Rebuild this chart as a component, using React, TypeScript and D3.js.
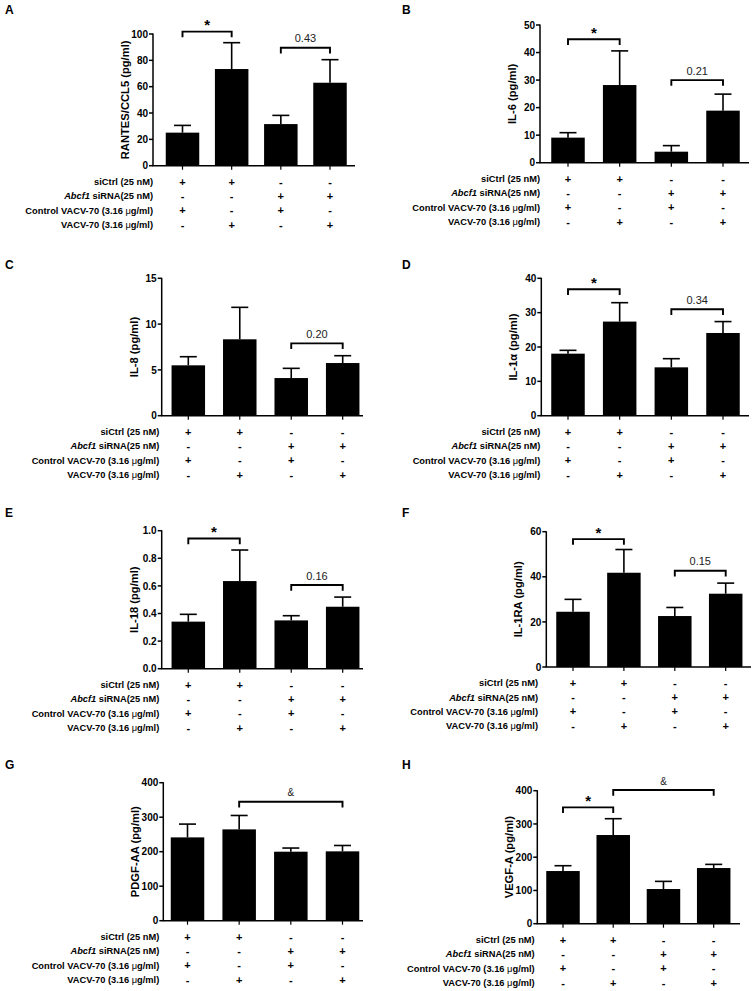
import React from "react";
import * as d3 from "d3";

// ---------- data ----------
const PANEL_LETTERS = ["A", "B", "C", "D", "E", "F", "G", "H"];
const Y_LABELS = [
  "RANTES/CCL5 (pg/ml)",
  "IL-6 (pg/ml)",
  "IL-8 (pg/ml)",
  "IL-1α (pg/ml)",
  "IL-18 (pg/ml)",
  "IL-1RA (pg/ml)",
  "PDGF-AA (pg/ml)",
  "VEGF-A (pg/ml)",
];
const Y_MAX = [100, 50, 15, 40, 1.0, 60, 400, 400];
const Y_STEP = [20, 10, 5, 10, 0.2, 20, 100, 100];
const Y_DECIMALS = [0, 0, 0, 0, 1, 0, 0, 0];

const MEANS = [
  [25.1, 73.4, 31.6, 63],
  [9.1, 28.2, 4.0, 18.9],
  [5.5, 8.34, 4.11, 5.75],
  [18.06, 27.4, 14.08, 24.08],
  [0.341, 0.635, 0.35, 0.449],
  [24.5, 41.8, 22.6, 32.5],
  [241.5, 264.7, 200, 201],
  [158.4, 266.7, 104.3, 167.4],
];
const ERR_TOPS = [
  [30.6, 93.4, 38.2, 80.5],
  [10.9, 40.6, 6.2, 24.9],
  [6.44, 11.83, 5.17, 6.55],
  [19.03, 32.9, 16.6, 27.4],
  [0.394, 0.86, 0.384, 0.519],
  [30.0, 52.1, 26.4, 37.2],
  [280, 305, 210.6, 218],
  [174.4, 315.8, 127.3, 178.4],
];

type Bracket = { a: number; b: number; y: number; label: string };
const BRACKETS: Bracket[][] = [
  [{ a: 0, b: 1, y: 101.8, label: "*" }, { a: 2, b: 3, y: 89.6, label: "0.43" }],
  [{ a: 0, b: 1, y: 44.8, label: "*" }, { a: 2, b: 3, y: 30.0, label: "0.21" }],
  [{ a: 2, b: 3, y: 7.9, label: "0.20" }],
  [{ a: 0, b: 1, y: 36.8, label: "*" }, { a: 2, b: 3, y: 31.0, label: "0.34" }],
  [{ a: 0, b: 1, y: 0.944, label: "*" }, { a: 2, b: 3, y: 0.606, label: "0.16" }],
  [{ a: 0, b: 1, y: 56.7, label: "*" }, { a: 2, b: 3, y: 42.7, label: "0.15" }],
  [{ a: 1, b: 3, y: 345, label: "&" }],
  [{ a: 0, b: 1, y: 350, label: "*" }, { a: 1, b: 3, y: 402, label: "&" }],
];

const ROW_SIGNS = [
  ["+", "+", "-", "-"],
  ["-", "-", "+", "+"],
  ["+", "-", "+", "-"],
  ["-", "+", "-", "+"],
];

// ---------- layout ----------
const LAYOUT = [
  { axisX: 153, yTop: 34, yBot: 165.7, xEnd: 355, c1: 182.5, c4: 330, labelRight: 153, lx: 5, ly: 9.5 },
  { axisX: 540, yTop: 25, yBot: 162.7, xEnd: 749, c1: 568, c4: 723, labelRight: 540, lx: 402, ly: 9.5 },
  { axisX: 161.7, yTop: 278.3, yBot: 415.7, xEnd: 363, c1: 188.3, c4: 342.7, labelRight: 159.3, lx: 5, ly: 265 },
  { axisX: 541.3, yTop: 278.3, yBot: 415.7, xEnd: 749, c1: 568, c4: 723, labelRight: 540.3, lx: 402, ly: 265 },
  { axisX: 161.7, yTop: 530.7, yBot: 668.7, xEnd: 363, c1: 188.3, c4: 342.7, labelRight: 159.3, lx: 5, ly: 513 },
  { axisX: 546.3, yTop: 531.7, yBot: 667, xEnd: 751, c1: 573, c4: 725.7, labelRight: 538, lx: 402, ly: 513 },
  { axisX: 163.3, yTop: 782.7, yBot: 920.7, xEnd: 363, c1: 187.5, c4: 342.5, labelRight: 159.3, lx: 5, ly: 765 },
  { axisX: 537.3, yTop: 790.7, yBot: 923.7, xEnd: 740, c1: 563, c4: 713.7, labelRight: 534.7, lx: 402, ly: 765 },
];
const ROW_OFFSETS = [16, 30.3, 44.6, 59];
const BAR_W = 33.5;
const CAP_HALF = 8.5;
const FONT = "'Liberation Sans', Arial, Helvetica, sans-serif";

function RowLabel({ i }: { i: number }) {
  if (i === 0) return <>siCtrl (25 nM)</>;
  if (i === 1)
    return (
      <>
        <tspan fontStyle="italic">Abcf1</tspan> siRNA(25 nM)
      </>
    );
  if (i === 2)
    return (
      <>
        Control VACV-70 (3.16 <tspan fontWeight="normal">μ</tspan>g/ml)
      </>
    );
  return (
    <>
      VACV-70 (3.16 <tspan fontWeight="normal">μ</tspan>g/ml)
    </>
  );
}

function Panel({ p }: { p: number }) {
  const L = LAYOUT[p];
  const y = d3.scaleLinear().domain([0, Y_MAX[p]]).range([L.yBot, L.yTop]);
  const x = d3.scalePoint<number>().domain([0, 1, 2, 3]).range([L.c1, L.c4]);
  const ticks = d3.range(0, Y_MAX[p] + Y_STEP[p] / 2, Y_STEP[p]);
  const fmt = d3.format(`.${Y_DECIMALS[p]}f`);
  const yMid = (L.yTop + L.yBot) / 2;
  return (
    <g>
      <text x={L.lx} y={L.ly + 4.3} fontSize={12} fontWeight="bold" fontFamily={FONT}>
        {PANEL_LETTERS[p]}
      </text>
      {/* bars */}
      {MEANS[p].map((m, i) => (
        <rect key={"b" + i} x={(x(i) as number) - BAR_W / 2} y={y(m)} width={BAR_W} height={L.yBot - y(m)} fill="#000" />
      ))}
      {/* error bars */}
      {ERR_TOPS[p].map((e, i) => {
        const cx = x(i) as number;
        return (
          <g key={"e" + i} stroke="#000" strokeWidth={1.6}>
            <line x1={cx} x2={cx} y1={y(MEANS[p][i])} y2={y(e)} />
            <line x1={cx - CAP_HALF} x2={cx + CAP_HALF} y1={y(e)} y2={y(e)} />
          </g>
        );
      })}
      {/* y axis */}
      <line x1={L.axisX} x2={L.axisX} y1={L.yTop - 0.5} y2={L.yBot} stroke="#000" strokeWidth={1.5} />
      {ticks.map((t) => (
        <g key={"t" + t}>
          <line x1={L.axisX - 4} x2={L.axisX} y1={y(t)} y2={y(t)} stroke="#000" strokeWidth={1.5} />
          <text x={L.axisX - 5} y={y(t) + 3.6} textAnchor="end" fontSize={10} fontWeight="bold" fontFamily={FONT}>
            {fmt(t)}
          </text>
        </g>
      ))}
      {/* x axis */}
      <line x1={L.axisX - 0.75} x2={L.xEnd} y1={L.yBot} y2={L.yBot} stroke="#000" strokeWidth={1.5} />
      {[0, 1, 2, 3].map((i) => (
        <line key={"xt" + i} x1={x(i) as number} x2={x(i) as number} y1={L.yBot} y2={L.yBot + 4} stroke="#000" strokeWidth={1.2} />
      ))}
      {/* y label */}
      <text
        transform={`translate(${L.axisX - 28},${yMid}) rotate(-90)`}
        textAnchor="middle"
        dominantBaseline="central"
        fontSize={11.2}
        fontWeight="bold"
        fontFamily={FONT}
      >
        {Y_LABELS[p]}
      </text>
      {/* brackets */}
      {BRACKETS[p].map((b, k) => {
        const xa = x(b.a) as number;
        const xb = x(b.b) as number;
        const yy = y(b.y);
        const star = b.label === "*";
        return (
          <g key={"br" + k}>
            <path d={`M${xa},${yy + 5.7}V${yy}H${xb}V${yy + 5.7}`} fill="none" stroke="#000" strokeWidth={1.9} />
            <text
              x={(xa + xb) / 2}
              y={star ? yy - 1.5 : yy - 5.5}
              textAnchor="middle"
              fontSize={star ? 15 : b.label === "&" ? 10 : 11}
              fontWeight={star ? "bold" : "normal"}
              fontFamily={FONT}
              fill={star ? "#000" : "#222"}
            >
              {b.label}
            </text>
          </g>
        );
      })}
      {/* condition rows */}
      {ROW_SIGNS.map((row, r) => (
        <g key={"r" + r}>
          <text x={L.labelRight} y={L.yBot + ROW_OFFSETS[r] + 3.3} textAnchor="end" fontSize={9.3} fontWeight="bold" fontFamily={FONT}>
            <RowLabel i={r} />
          </text>
          {row.map((s, i) => (
            <text
              key={"s" + i}
              x={x(i) as number}
              y={L.yBot + ROW_OFFSETS[r] + 3.8}
              textAnchor="middle"
              fontSize={11}
              fontWeight="bold"
              fontFamily={FONT}
            >
              {s}
            </text>
          ))}
        </g>
      ))}
    </g>
  );
}

export default function App() {
  return (
    <svg
      width={756}
      height={991}
      viewBox="0 0 756 991"
      style={{ position: "absolute", left: 0, top: 0, background: "#fff" }}
    >
      <rect width={756} height={991} fill="#fff" />
      {PANEL_LETTERS.map((_, p) => (
        <Panel key={p} p={p} />
      ))}
    </svg>
  );
}
